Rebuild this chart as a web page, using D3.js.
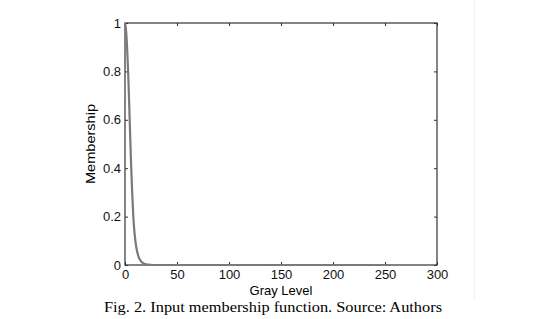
<!DOCTYPE html>
<html>
<head>
<meta charset="utf-8">
<script src="https://cdn.jsdelivr.net/npm/d3@7"></script>
<style>
  body { margin: 0; background: #fff; }
  svg { display: block; }
</style>
</head>
<body>
<div id="chart"></div>
<script>
// gray level -> membership
const grayLevels = [0, 1, 2, 3, 4, 5, 6, 7, 8, 9, 10, 11, 12, 13, 14, 16, 18, 20, 24, 28, 255];
const membership = [1.0, 0.97, 0.9, 0.8, 0.67, 0.53, 0.4, 0.29, 0.2, 0.14, 0.1, 0.07, 0.05, 0.035, 0.025, 0.012, 0.006, 0.003, 0.001, 0, 0];
const xTicks = [0, 50, 100, 150, 200, 250, 300];
const yTicks = [0, 0.2, 0.4, 0.6, 0.8, 1];
const caption = "Fig. 2. Input membership function. Source: Authors";

const data = grayLevels.map((g, i) => ({ g: g, m: membership[i] }));

const W = 550, H = 319;
const margin = { top: 23, right: 113, bottom: 54, left: 125 };
const width = W - margin.left - margin.right;
const height = H - margin.top - margin.bottom;

const root = d3.select("#chart")
    .append("svg")
    .attr("width", W)
    .attr("height", H);

// faint page edge on the right
root.append("line")
    .attr("x1", 474.5).attr("x2", 474.5)
    .attr("y1", 0).attr("y2", 300)
    .attr("stroke", "#f2f2f2");

const svg = root.append("g")
    .attr("transform", `translate(${margin.left},${margin.top})`);

const x = d3.scaleLinear().domain([0, 300]).range([0, width]);
const y = d3.scaleLinear().domain([0, 1]).range([height, 0]);

const tickFont = "Liberation Sans, Arial, sans-serif";

// axes with inward ticks (matlab style)
const xAxis = svg.append("g")
    .attr("transform", `translate(0,${height})`)
    .call(d3.axisBottom(x).tickValues(xTicks).tickSizeInner(-3).tickSizeOuter(0).tickPadding(5));
const yAxis = svg.append("g")
    .call(d3.axisLeft(y).tickValues(yTicks).tickSizeInner(-3).tickSizeOuter(0).tickPadding(4)
        .tickFormat(d3.format("~g")));
const xTop = svg.append("g")
    .call(d3.axisTop(x).tickValues(xTicks).tickSizeInner(-3).tickSizeOuter(0).tickFormat(""));
const yRight = svg.append("g")
    .attr("transform", `translate(${width},0)`)
    .call(d3.axisRight(y).tickValues(yTicks).tickSizeInner(-3).tickSizeOuter(0).tickFormat(""));

[xAxis, yAxis, xTop, yRight].forEach(a => {
    a.select(".domain").remove();
    a.selectAll("line").attr("stroke", "#333");
    a.selectAll("text")
        .attr("fill", "#111")
        .style("font-family", tickFont)
        .style("font-size", "13px");
});

// box
svg.append("rect")
    .attr("x", 0).attr("y", 0)
    .attr("width", width).attr("height", height)
    .attr("fill", "none")
    .attr("stroke", "#333")
    .attr("stroke-width", 1.2);

// membership curve
const line = d3.line()
    .x(d => x(d.g))
    .y(d => y(d.m))
    .curve(d3.curveMonotoneX);

svg.append("path")
    .datum(data)
    .attr("fill", "none")
    .attr("stroke", "#7a7a7a")
    .attr("stroke-width", 2.2)
    .attr("d", line);

// axis labels
svg.append("text")
    .attr("x", width / 2)
    .attr("y", height + 30)
    .style("text-anchor", "middle")
    .style("font-family", tickFont)
    .style("font-size", "13px")
    .text("Gray Level");

svg.append("text")
    .attr("transform", "rotate(-90)")
    .attr("x", -height / 2)
    .attr("y", -30)
    .attr("textLength", 80)
    .attr("lengthAdjust", "spacingAndGlyphs")
    .style("text-anchor", "middle")
    .style("font-family", tickFont)
    .style("font-size", "13.5px")
    .text("Membership");

// caption
root.append("text")
    .attr("x", 273)
    .attr("y", 312)
    .attr("textLength", 338)
    .attr("lengthAdjust", "spacingAndGlyphs")
    .style("text-anchor", "middle")
    .style("font-family", "Liberation Serif, DejaVu Serif, serif")
    .style("font-size", "14px")
    .text(caption);
</script>
</body>
</html>
